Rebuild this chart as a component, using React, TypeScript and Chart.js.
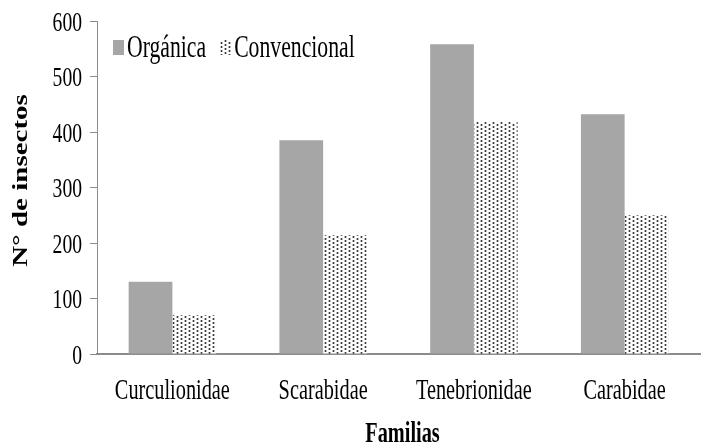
import React, { useEffect, useRef } from "react";
import { Chart, registerables } from "chart.js";

Chart.register(...registerables);

const categories = ["Curculionidae", "Scarabidae", "Tenebrionidae", "Carabidae"];
const organica = [130, 385, 558, 432];
const convencional = [70, 214, 418, 250];
const seriesNames = ["Orgánica", "Convencional"];
const yTicks = [0, 100, 200, 300, 400, 500, 600];
const yTitle = "N° de insectos";
const xTitle = "Familias";

const FONT = '"Liberation Serif", serif';
const SX = 0.7; // horizontal squeeze of the lettering

function makePattern(): CanvasPattern | string {
  const c = document.createElement("canvas");
  c.width = 8;
  c.height = 4;
  const g = c.getContext("2d");
  if (!g) return "#bbb";
  g.fillStyle = "#ffffff";
  g.fillRect(0, 0, 8, 4);
  g.fillStyle = "#bdbdbd";
  g.fillRect(0, 0, 3, 2);
  g.fillRect(4, 2, 3, 2);
  g.fillStyle = "#3a3a3a";
  g.fillRect(1, 0, 1, 2);
  g.fillRect(5, 2, 1, 2);
  const p = g.createPattern(c, "repeat");
  return p || "#bbb";
}

function squeezedText(ctx: CanvasRenderingContext2D, text: string, x: number, y: number, align: CanvasTextAlign) {
  ctx.save();
  ctx.translate(x, y);
  ctx.scale(SX, 1);
  ctx.textAlign = align;
  ctx.fillText(text, 0, 0);
  ctx.restore();
}

export default function App() {
  const ref = useRef<HTMLCanvasElement | null>(null);
  useEffect(() => {
    if (!ref.current) return;
    const pattern = makePattern();
    const colors = ["#a6a6a6", pattern];
    const overlay = {
      id: "overlay",
      afterDraw(ch: any) {
        const ctx: CanvasRenderingContext2D = ch.ctx;
        const area = ch.chartArea;
        const xs = ch.scales.x;
        const ys = ch.scales.y;
        ctx.save();
        ctx.fillStyle = "#000";
        ctx.textBaseline = "alphabetic";
        // y tick labels
        ctx.font = `28px ${FONT}`;
        yTicks.forEach((v) => {
          squeezedText(ctx, String(v), 82, ys.getPixelForValue(v) + 9.5, "right");
        });
        // category labels
        ctx.font = `29px ${FONT}`;
        categories.forEach((c, i) => {
          squeezedText(ctx, c, xs.getPixelForTick(i), area.bottom + 45, "center");
        });
        // legend
        ctx.font = `31px ${FONT}`;
        let x = 113;
        const base = 57;
        seriesNames.forEach((name, i) => {
          ctx.fillStyle = colors[i] as any;
          ctx.fillRect(x, 40, 11, 15);
          ctx.fillStyle = "#000";
          squeezedText(ctx, name, x + 14, base, "left");
          x += 14 + ctx.measureText(name).width * SX + 14;
        });
        // x title
        ctx.font = `bold 29px ${FONT}`;
        squeezedText(ctx, xTitle, (area.left + area.right) / 2 + 4, 442, "center");
        // y title
        ctx.save();
        ctx.translate(22, (area.top + area.bottom) / 2 - 7);
        ctx.scale(SX, 1);
        ctx.rotate(-Math.PI / 2);
        ctx.textAlign = "center";
        ctx.textBaseline = "middle";
        ctx.fillText(yTitle, 0, 0);
        ctx.restore();
        ctx.restore();
      },
    };
    const chart = new Chart(ref.current, {
      type: "bar",
      data: {
        labels: categories,
        datasets: [
          { label: seriesNames[0], data: organica, backgroundColor: colors[0] as any, borderWidth: 0 },
          { label: seriesNames[1], data: convencional, backgroundColor: colors[1] as any, borderWidth: 0 },
        ],
      },
      options: {
        animation: false,
        responsive: false,
        maintainAspectRatio: false,
        layout: { padding: { left: 0, right: 4, top: 21, bottom: 0 } },
        plugins: { legend: { display: false }, tooltip: { enabled: false } },
        datasets: { bar: { categoryPercentage: 0.58, barPercentage: 1 } },
        scales: {
          x: {
            grid: { display: true, drawOnChartArea: false, drawTicks: false, color: "rgba(0,0,0,0)" },
            border: { display: true, color: "#8c8c8c", width: 2 },
            ticks: { display: false },
            afterFit: (s: any) => { s.height = 90; },
          },
          y: {
            min: 0,
            max: 600,
            ticks: { display: false, stepSize: 100 },
            grid: { display: true, drawOnChartArea: false, drawTicks: true, tickLength: 7, color: "#8c8c8c", lineWidth: 1 },
            border: { display: true, color: "#8c8c8c", width: 1 },
            afterFit: (s: any) => { s.width = 97; },
          },
        },
      },
      plugins: [overlay],
    });
    return () => chart.destroy();
  }, []);
  return (
    <div style={{ position: "absolute", left: 0, top: 0, width: 704, height: 444, background: "#fff" }}>
      <canvas ref={ref} width={704} height={444} style={{ width: 704, height: 444 }} />
    </div>
  );
}
